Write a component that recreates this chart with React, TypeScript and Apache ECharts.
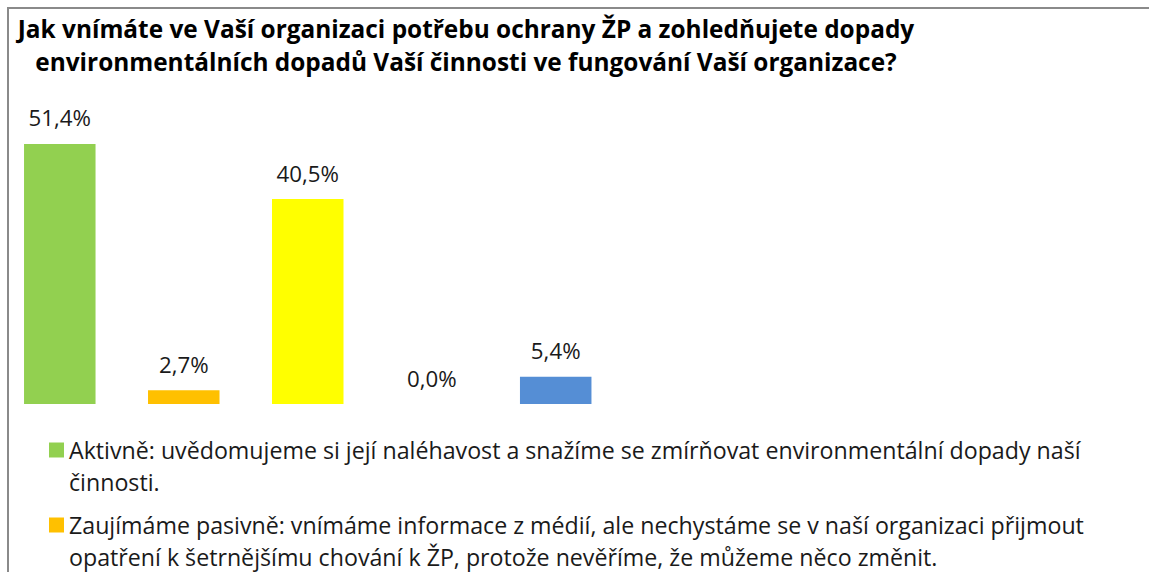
import React, { useEffect, useRef } from "react";
import * as echarts from "echarts";

const TITLE_LINES = [
  "Jak vnímáte ve Vaší organizaci potřebu ochrany ŽP a zohledňujete dopady",
  "environmentálních dopadů Vaší činnosti ve fungování Vaší organizace?",
];

const CATEGORY = ["Odpověď"];

// Legend labels (as wrapped in the reference) for the visible items
const LEGEND_LINES: string[][] = [
  [
    "Aktivně: uvědomujeme si její naléhavost a snažíme se zmírňovat environmentální dopady naší",
    "činnosti.",
  ],
  [
    "Zaujímáme pasivně: vnímáme informace z médií, ale nechystáme se v naší organizaci přijmout",
    "opatření k šetrnějšímu chování k ŽP, protože nevěříme, že můžeme něco změnit.",
  ],
];

const SERIES_NAMES = [
  LEGEND_LINES[0].join(" "),
  LEGEND_LINES[1].join(" "),
  "Odpověď 3",
  "Odpověď 4",
  "Odpověď 5",
];
const SERIES_VALUES = [51.4, 2.7, 40.5, 0.0, 5.4];
const SERIES_COLORS = ["#92D050", "#FFC000", "#FFFF00", "#A5A5A5", "#558ED5"];

const FONT = "Open Sans";

export default function App() {
  const ref = useRef<HTMLDivElement>(null);

  useEffect(() => {
    if (!ref.current) return;
    const chart = echarts.init(ref.current, undefined, { renderer: "svg" });

    const series = SERIES_NAMES.map((name, i) => ({
      name,
      type: "bar",
      data: [SERIES_VALUES[i]],
      barWidth: 71.5,
      barGap: "73.4%",
      itemStyle: { color: SERIES_COLORS[i] },
      label: {
        show: true,
        position: "top",
        distance: 15,
        fontFamily: FONT,
        fontSize: 22.3,
        color: "#1a1a1a",
        formatter: (p: any) => p.value.toFixed(1).replace(".", ",") + "%",
      },
    }));

    chart.setOption({
      animation: false,
      backgroundColor: "#ffffff",
      title: {
        text: TITLE_LINES.join("\n"),
        left: 466,
        top: 12,
        padding: 0,
        textAlign: "center",
        textStyle: {
          fontFamily: FONT,
          fontWeight: "bold",
          fontSize: 24.4,
          lineHeight: 33,
          color: "#000000",
        },
      },
      graphic: [
        {
          type: "rect",
          shape: { x: 8, y: 8, width: 1200, height: 700 },
          style: { fill: "none", stroke: "#8a8a8a", lineWidth: 2 },
          silent: true,
          z: 100,
        },
      ],
      legend: {
        data: SERIES_NAMES.slice(0, 2),
        orient: "vertical",
        left: 49,
        top: 402,
        height: 600,
        padding: 0,
        itemWidth: 15,
        itemHeight: 15,
        itemGap: -21,
        icon: "rect",
        selectedMode: false,
        formatter: (name: string) => {
          const idx = SERIES_NAMES.indexOf(name);
          // leading empty line so that the first text line sits level with the marker
          return idx >= 0 && idx < LEGEND_LINES.length ? "\n" + LEGEND_LINES[idx].join("\n") : name;
        },
        textStyle: {
          fontFamily: FONT,
          fontSize: 23.2,
          lineHeight: 32,
          color: "#1a1a1a",
        },
      },
      grid: {
        left: 24,
        width: 567.5,
        top: 100.4,
        bottom: 168,
        containLabel: false,
      },
      xAxis: {
        type: "category",
        data: CATEGORY,
        show: false,
      },
      yAxis: {
        type: "value",
        min: 0,
        max: 60,
        show: false,
        splitLine: { show: false },
      },
      series,
    });

    return () => chart.dispose();
  }, []);

  return (
    <div
      ref={ref}
      style={{ position: "fixed", left: 0, top: 0, width: 1149, height: 572, background: "#fff" }}
    />
  );
}
